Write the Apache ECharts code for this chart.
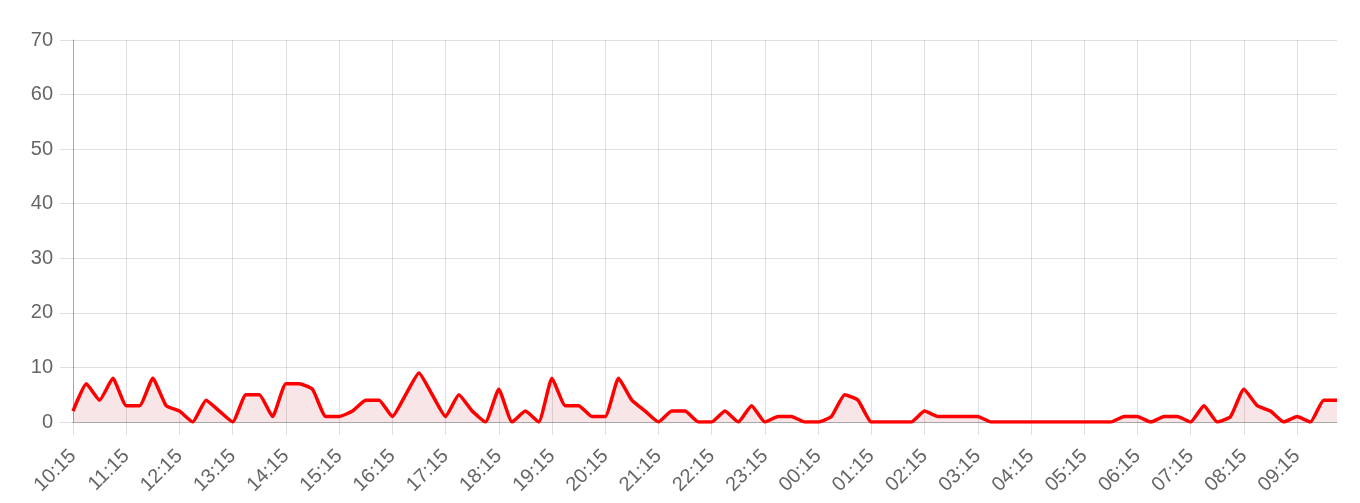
<!DOCTYPE html>
<html>
<head>
<meta charset="utf-8">
<script src="https://cdn.jsdelivr.net/npm/echarts@6/dist/echarts.min.js"></script>
<style>
html,body{margin:0;padding:0;background:#fff;}
#chart{width:1360px;height:503px;}
</style>
</head>
<body>
<div id="chart"></div>
<script>
const startHour = 10, startMin = 15;
const categories = [];
for (let i = 0; i < 96; i++) {
  const t = startHour * 60 + startMin + i * 15;
  const h = Math.floor(t / 60) % 24, m = t % 60;
  categories.push(String(h).padStart(2, '0') + ':' + String(m).padStart(2, '0'));
}
const values = [
  2, 7, 4, 8, 3, 3, 8, 3, 2, 0, 4, 2, 0, 5, 5, 1,
  7, 7, 6, 1, 1, 2, 4, 4, 1, 5, 9, 5, 1, 5, 2, 0,
  6, 0, 2, 0, 8, 3, 3, 1, 1, 8, 4, 2, 0, 2, 2, 0,
  0, 2, 0, 3, 0, 1, 1, 0, 0, 1, 5, 4, 0, 0, 0, 0,
  2, 1, 1, 1, 1, 0, 0, 0, 0, 0, 0, 0, 0, 0, 0, 1,
  1, 0, 1, 1, 0, 3, 0, 1, 6, 3, 2, 0, 1, 0, 4, 4
];
const yTicks = { min: 0, max: 70, interval: 10 };

const chart = echarts.init(document.getElementById('chart'));
chart.setOption({
  animation: false,
  grid: { left: 73, right: 23, top: 40, bottom: 81, containLabel: false },
  xAxis: {
    type: 'category',
    data: categories,
    boundaryGap: false,
    axisLine: { show: true, lineStyle: { color: 'rgba(0,0,0,0.25)', width: 1 } },
    axisTick: { show: true, interval: 3, length: 13, lineStyle: { color: 'rgba(0,0,0,0.12)' } },
    axisLabel: {
      interval: 3, rotate: 45, margin: 31,
      color: '#666', fontSize: 20, fontFamily: 'Liberation Sans, Arial, sans-serif'
    },
    splitLine: { show: true, interval: 3, lineStyle: { color: 'rgba(0,0,0,0.12)', width: 1 } }
  },
  yAxis: {
    type: 'value',
    min: yTicks.min, max: yTicks.max, interval: yTicks.interval,
    axisLine: { show: true, lineStyle: { color: 'rgba(0,0,0,0.25)', width: 1 } },
    axisTick: { show: true, length: 13, lineStyle: { color: 'rgba(0,0,0,0.12)' } },
    axisLabel: { color: '#666', fontSize: 20, margin: 20, fontFamily: 'Liberation Sans, Arial, sans-serif' },
    splitLine: { show: true, lineStyle: { color: 'rgba(0,0,0,0.12)', width: 1 } }
  },
  series: [{
    type: 'line',
    data: values,
    smooth: 0.15,
    symbol: 'none',
    lineStyle: { color: '#ff0000', width: 3.5 },
    itemStyle: { color: '#ff0000' },
    areaStyle: { color: 'rgba(190,30,50,0.16)' }
  }]
});
</script>
</body>
</html>
